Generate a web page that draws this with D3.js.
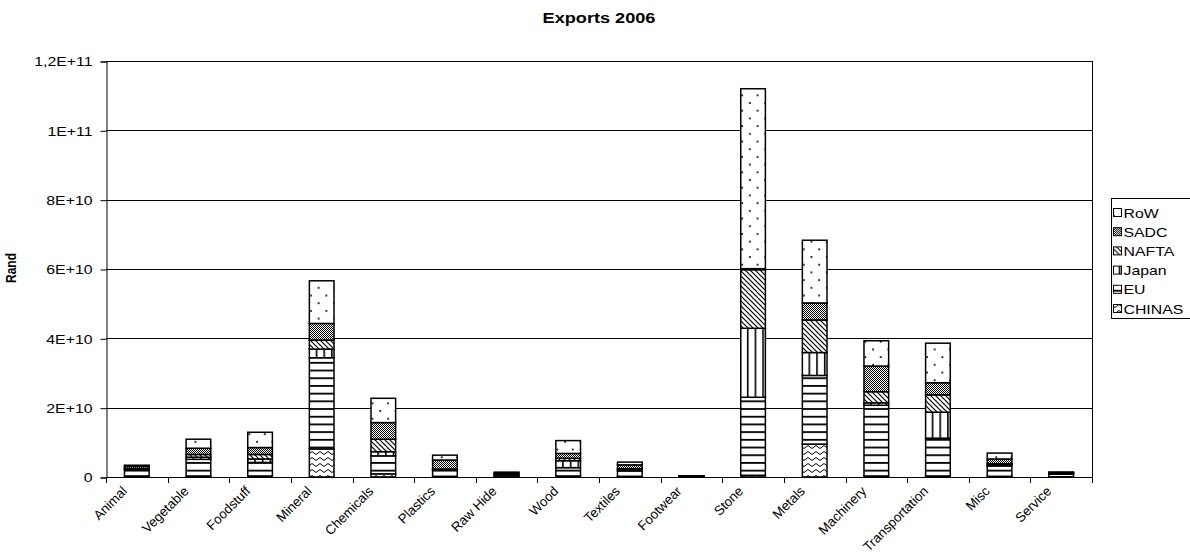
<!DOCTYPE html>
<html>
<head>
<meta charset="utf-8">
<script src="https://cdn.jsdelivr.net/npm/d3@7"></script>
<style>
body { margin: 0; background: #fff; }
text { font-family: "Liberation Sans", Arial, sans-serif; }
</style>
</head>
<body>
<svg id="chart" width="1190" height="554"></svg>
<script>
// values, in billions of rand
var categories = ['Animal', 'Vegetable', 'Foodstuff', 'Mineral', 'Chemicals', 'Plastics', 'Raw Hide', 'Wood',
    'Textiles', 'Footwear', 'Stone', 'Metals', 'Machinery', 'Transportation', 'Misc', 'Service'];
var seriesNames = ['CHINAS', 'EU', 'Japan', 'NAFTA', 'SADC', 'RoW'];
var chinas = [0.3, 0.3, 0.3, 8.1, 0.9, 0.2, 0.1, 0.3, 0.2, 0.05, 0.5, 9.5, 0.3, 0.3, 0.2, 0.05];
var eu     = [1.8, 4.8, 3.9, 26.3, 5.2, 1.8, 0.5, 2.4, 1.6, 0.1, 22.5, 19.8, 20.4, 10.9, 3.0, 0.8];
var japan  = [0.2, 0.6, 1.0, 2.5, 1.2, 0.1, 0.1, 2.0, 0.2, 0.02, 19.9, 6.6, 0.7, 7.5, 0.3, 0.1];
var nafta  = [0.2, 0.8, 1.3, 2.6, 3.6, 0.2, 0.1, 0.7, 0.4, 0.03, 16.9, 9.4, 3.2, 5.0, 0.3, 0.1];
var sadc   = [0.6, 1.8, 2.0, 4.8, 4.8, 2.6, 0.4, 1.4, 1.1, 0.1, 0.3, 4.9, 7.4, 3.5, 1.4, 0.2];
var row    = [0.3, 2.6, 4.4, 12.3, 7.0, 1.4, 0.2, 3.7, 0.8, 0.05, 51.9, 18.1, 7.3, 11.4, 1.7, 0.2];
var yTicks = [0, 2e10, 4e10, 6e10, 8e10, 1e11, 1.2e11];
var yTickLabels = ['0', '2E+10', '4E+10', '6E+10', '8E+10', '1E+11', '1,2E+11'];

var plot = {left: 106, right: 1092, top: 61, bottom: 477};
// horizontal text in the source is drawn wide
var stretch = 1.2;

function buildRows() {
    var lists = [chinas, eu, japan, nafta, sadc, row];
    return categories.map(function (c, i) {
        var r = {name: c};
        seriesNames.forEach(function (s, k) {
            r[s] = lists[k][i] * 1e9;
        });
        return r;
    });
}

function addPatterns(defs) {
    var p;
    // CHINAS: zigzag waves
    p = defs.append('pattern').attr('id', 'pat-CHINAS').attr('patternUnits', 'userSpaceOnUse')
        .attr('width', 8).attr('height', 6);
    p.append('rect').attr('width', 8).attr('height', 6).attr('fill', '#fff');
    p.append('path').attr('d', 'M0 1.5 L4 4.5 L8 1.5').attr('stroke', '#000').attr('stroke-width', 1).attr('fill', 'none');

    // EU: horizontal lines
    p = defs.append('pattern').attr('id', 'pat-EU').attr('patternUnits', 'userSpaceOnUse')
        .attr('width', 8).attr('height', 7.7);
    p.append('rect').attr('width', 8).attr('height', 7.7).attr('fill', '#fff');
    p.append('rect').attr('y', 0).attr('width', 8).attr('height', 1.8).attr('fill', '#000');

    // Japan: vertical lines
    p = defs.append('pattern').attr('id', 'pat-Japan').attr('patternUnits', 'userSpaceOnUse')
        .attr('width', 7.7).attr('height', 8);
    p.append('rect').attr('width', 7.7).attr('height', 8).attr('fill', '#fff');
    p.append('rect').attr('x', 0).attr('width', 1.6).attr('height', 8).attr('fill', '#000');

    // NAFTA: diagonal lines
    p = defs.append('pattern').attr('id', 'pat-NAFTA').attr('patternUnits', 'userSpaceOnUse')
        .attr('width', 5).attr('height', 5);
    p.append('rect').attr('width', 5).attr('height', 5).attr('fill', '#fff');
    p.append('path').attr('d', 'M-1 -1 L6 6 M-1 4 L1 6 M4 -1 L6 1')
        .attr('stroke', '#000').attr('stroke-width', 1.2);

    // SADC: fine checker
    p = defs.append('pattern').attr('id', 'pat-SADC').attr('patternUnits', 'userSpaceOnUse')
        .attr('width', 2).attr('height', 2);
    p.append('rect').attr('width', 2).attr('height', 2).attr('fill', '#fff');
    p.append('rect').attr('width', 1).attr('height', 1).attr('fill', '#000');
    p.append('rect').attr('x', 1).attr('y', 1).attr('width', 1).attr('height', 1).attr('fill', '#000');

    // RoW: sparse dots
    p = defs.append('pattern').attr('id', 'pat-RoW').attr('patternUnits', 'userSpaceOnUse')
        .attr('width', 15.4).attr('height', 15.4);
    p.append('rect').attr('width', 15.4).attr('height', 15.4).attr('fill', '#fff');
    p.append('circle').attr('cx', 3).attr('cy', 3).attr('r', 1).attr('fill', '#000');
    p.append('circle').attr('cx', 10.7).attr('cy', 10.7).attr('r', 1).attr('fill', '#000');
}

function draw() {
    var svg = d3.select('#chart');
    var defs = svg.append('defs');
    addPatterns(defs);

    var rows = buildRows();
    var x = d3.scaleBand().domain(categories).range([plot.left, plot.right]).paddingInner(0.6).paddingOuter(0.3);
    var y = d3.scaleLinear().domain([0, 1.2e11]).range([plot.bottom, plot.top]);

    // gridlines
    svg.append('g').selectAll('line.grid')
        .data(yTicks.slice(1)).enter().append('line')
        .attr('class', 'grid')
        .attr('x1', plot.left).attr('x2', plot.right)
        .attr('y1', function (d) { return Math.round(y(d)) + 0.5; })
        .attr('y2', function (d) { return Math.round(y(d)) + 0.5; })
        .attr('stroke', '#000').attr('stroke-width', 1);

    // right border
    svg.append('line')
        .attr('x1', plot.right + 0.5).attr('x2', plot.right + 0.5)
        .attr('y1', plot.top).attr('y2', plot.bottom)
        .attr('stroke', '#000');

    // stacked bars
    var stack = d3.stack().keys(seriesNames)(rows);
    var layers = svg.append('g').selectAll('g.layer')
        .data(stack).enter().append('g')
        .attr('class', 'layer')
        .attr('fill', function (d) { return 'url(#pat-' + d.key + ')'; });
    layers.selectAll('rect')
        .data(function (d) { return d; }).enter().append('rect')
        .attr('x', function (d) { return x(d.data.name); })
        .attr('width', x.bandwidth())
        .attr('y', function (d) { return y(d[1]); })
        .attr('height', function (d) { return Math.max(0, y(d[0]) - y(d[1])); })
        .attr('stroke', '#000').attr('stroke-width', 1.5);

    // y axis
    var yAxis = d3.axisLeft(y).tickValues(yTicks).tickSizeOuter(0).tickSize(6)
        .tickFormat(function (d, i) { return yTickLabels[i]; });
    var gy = svg.append('g').attr('transform', 'translate(' + (plot.left + 0.5) + ',0.5)').call(yAxis);
    gy.select('.domain').attr('stroke', '#000');
    gy.selectAll('.tick line').attr('stroke', '#000');
    gy.selectAll('text')
        .attr('x', null)
        .attr('transform', 'translate(-14,0) scale(' + stretch + ',1)')
        .attr('font-size', 13.2).attr('fill', '#000')
        .style('font-family', '"Liberation Sans", Arial, sans-serif');

    // x axis: ticks between categories
    var boundaries = d3.range(categories.length + 1).map(function (i) {
        return plot.left + i * (plot.right - plot.left) / categories.length;
    });
    svg.append('line')
        .attr('x1', plot.left).attr('x2', plot.right + 1)
        .attr('y1', plot.bottom + 0.5).attr('y2', plot.bottom + 0.5)
        .attr('stroke', '#000');
    svg.append('g').selectAll('line')
        .data(boundaries).enter().append('line')
        .attr('x1', function (d) { return Math.round(d) + 0.5; })
        .attr('x2', function (d) { return Math.round(d) + 0.5; })
        .attr('y1', plot.bottom).attr('y2', plot.bottom + 6)
        .attr('stroke', '#000');

    svg.append('g').selectAll('text.xlab')
        .data(categories).enter().append('text')
        .attr('class', 'xlab')
        .attr('font-size', 13.3)
        .attr('text-anchor', 'end')
        .attr('transform', function (d) {
            var cx = x(d) + x.bandwidth() / 2;
            return 'translate(' + (cx - 9) + ',' + (plot.bottom + 15) + ') rotate(-45)';
        })
        .text(function (d) { return d; });

    // title and y label
    svg.append('text')
        .attr('transform', 'translate(599,23) scale(1.25,1)')
        .attr('text-anchor', 'middle')
        .attr('font-size', 14.5).attr('font-weight', 'bold')
        .text('Exports 2006');
    svg.append('text')
        .attr('transform', 'translate(16,268) scale(' + stretch + ',1) rotate(-90)')
        .attr('text-anchor', 'middle')
        .attr('font-size', 12).attr('font-weight', 'bold')
        .text('Rand');

    // legend
    var legend = svg.append('g').attr('transform', 'translate(1111,198)');
    legend.append('rect')
        .attr('x', 0.5).attr('y', 0.5).attr('width', 82).attr('height', 120)
        .attr('fill', '#fff').attr('stroke', '#000');
    var items = legend.selectAll('g.item')
        .data(seriesNames.slice().reverse()).enter().append('g')
        .attr('class', 'item')
        .attr('transform', function (d, i) { return 'translate(0,' + (15 + i * 19.2) + ')'; });
    items.append('rect')
        .attr('x', 2.5).attr('y', -4.5).attr('width', 8).attr('height', 8)
        .attr('fill', function (d) { return 'url(#pat-' + d + ')'; })
        .attr('stroke', '#000').attr('stroke-width', 1);
    items.append('text')
        .attr('transform', 'translate(12.5,0) scale(' + stretch + ',1)')
        .attr('dy', '0.35em')
        .attr('font-size', 13.2)
        .text(function (d) { return d; });
}

draw();
</script>
</body>
</html>
